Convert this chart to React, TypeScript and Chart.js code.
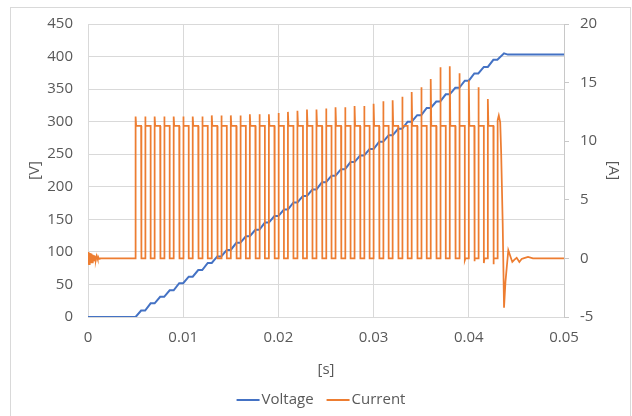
import React, { useEffect, useRef } from 'react';
import { Chart, registerables } from 'chart.js';

Chart.register(...registerables);

// ---------- data ----------
const seriesNames = ['Voltage', 'Current'];
const xTickLabels = ['0', '0.01', '0.02', '0.03', '0.04', '0.05'];
const vTickLabels = ['0', '50', '100', '150', '200', '250', '300', '350', '400', '450'];
const aTickLabels = ['-5', '0', '5', '10', '15', '20'];

// rising edge time of each current pulse [s]
const pulseStarts = [
  0.005, 0.006, 0.007, 0.008, 0.009, 0.010, 0.011, 0.012, 0.013, 0.014,
  0.015, 0.016, 0.017, 0.018, 0.019, 0.020, 0.021, 0.022, 0.023, 0.024,
  0.025, 0.026, 0.027, 0.028, 0.029, 0.030, 0.031, 0.032, 0.033, 0.034,
  0.035, 0.036, 0.037, 0.038, 0.039, 0.040, 0.041, 0.042,
];
// spike peak at the start of each pulse [A]
const spikePeaks = [
  12.1, 12.1, 12.1, 12.1, 12.1, 12.1, 12.1, 12.1, 12.2, 12.2,
  12.2, 12.2, 12.3, 12.3, 12.3, 12.4, 12.5, 12.6, 12.7, 12.7,
  12.8, 12.9, 12.9, 13.0, 13.0, 13.2, 13.4, 13.5, 13.8, 14.2,
  14.6, 15.3, 16.3, 16.4, 15.8, 15.2, 14.6, 13.6,
];
// flat top level of each pulse [A]
const pulseTops = [
  11.3, 11.3, 11.3, 11.3, 11.3, 11.3, 11.3, 11.3, 11.3, 11.3,
  11.3, 11.3, 11.3, 11.3, 11.3, 11.3, 11.3, 11.3, 11.3, 11.3,
  11.3, 11.3, 11.3, 11.3, 11.3, 11.3, 11.3, 11.3, 11.3, 11.3,
  11.3, 11.3, 11.3, 11.3, 11.3, 11.3, 11.3, 11.3,
];
// falling edge time of each pulse [s]
const pulseEnds = [
  0.00558, 0.00658, 0.00758, 0.00858, 0.00958, 0.01058, 0.01158, 0.01258, 0.01358, 0.01458,
  0.01558, 0.01658, 0.01758, 0.01858, 0.01958, 0.02058, 0.02158, 0.02258, 0.02358, 0.02458,
  0.02558, 0.02658, 0.02758, 0.02858, 0.02958, 0.03058, 0.03158, 0.03258, 0.03358, 0.03458,
  0.03558, 0.03658, 0.03758, 0.03858, 0.03958, 0.04058, 0.04158, 0.04258,
];
// small undershoot after each falling edge [A]
const fallDips = [
  0, 0, 0, 0, 0, 0, 0, 0, 0, 0,
  0, 0, 0, 0, 0, 0, 0, 0, 0, 0,
  0, 0, 0, 0, 0, 0, 0, 0, 0, 0,
  0, 0, 0, 0, -0.15, -0.25, -0.4, -0.5,
];
// ringing at t = 0
const ringTimes = [
  0, 0.00004, 0.00008, 0.00012, 0.00016, 0.0002, 0.00024, 0.00028, 0.00032, 0.00036,
  0.0004, 0.00044, 0.00048, 0.00052, 0.00056, 0.0006, 0.00064, 0.00068, 0.00072, 0.00076,
  0.0008, 0.00084, 0.00088, 0.00092, 0.00096, 0.001, 0.00104, 0.00108, 0.00112, 0.00116,
  0.0012, 0.00124, 0.00128,
];
const ringValues = [
  0.55, -0.53, 0.51, -0.49, 0.47, -0.45, 0.43, -0.41, 0.39, -0.37,
  0.35, -0.33, 0.31, -0.29, 0.27, -0.25, 0.23, -0.21, 0.19, -0.17,
  0.15, -0.13, 0.11, -0.09, 0.08, -0.07, 0.06, -0.05, 0.04, -0.03,
  0.02, -0.01, 0,
];
// last pulse and switch-off transient
const tailTimes = [0.043, 0.04303, 0.04315, 0.0433, 0.0434, 0.04356, 0.0437, 0.04385, 0.04415, 0.0444, 0.04457, 0.0448, 0.04503, 0.04531, 0.04555, 0.04573, 0.04622, 0.04674, 0.05];
const tailValues = [0, 11.8, 12.2, 11.6, 9.0, 3.0, -4.2, -2.0, 0.7, 0.1, -0.3, -0.1, 0.05, -0.3, -0.05, 0.0, 0.13, 0.0, 0.0];

// voltage level reached after each pulse [V]
const voltageLevels = [
  10, 21, 31, 41, 52, 62, 72, 83, 93, 103,
  114, 124, 134, 145, 155, 165, 176, 186, 196, 207,
  217, 227, 238, 248, 258, 269, 279, 289, 300, 310,
  321, 331, 342, 352, 363, 374, 384, 395,
];
const voltageTailTimes = [0.043, 0.0437, 0.0441, 0.05];
const voltageTailValues = [395, 405, 403, 403];

// ---------- build point lists ----------
function buildCurrent() {
  const pts: { x: number; y: number }[] = [];
  ringTimes.forEach((t, i) => pts.push({ x: t, y: ringValues[i] }));
  pulseStarts.forEach((t, k) => {
    pts.push({ x: t, y: 0 });
    pts.push({ x: t, y: spikePeaks[k] });
    pts.push({ x: t + 0.00006, y: pulseTops[k] });
    pts.push({ x: pulseEnds[k], y: pulseTops[k] });
    pts.push({ x: pulseEnds[k], y: fallDips[k] });
    pts.push({ x: pulseEnds[k] + 0.00006, y: 0 });
  });
  tailTimes.forEach((t, i) => pts.push({ x: t, y: tailValues[i] }));
  return pts;
}

function buildVoltage() {
  const pts: { x: number; y: number }[] = [{ x: 0, y: 0 }];
  pulseStarts.forEach((t, k) => {
    pts.push({ x: t, y: k === 0 ? 0 : voltageLevels[k - 1] });
    pts.push({ x: pulseEnds[k], y: voltageLevels[k] });
  });
  voltageTailTimes.forEach((t, i) => pts.push({ x: t, y: voltageTailValues[i] }));
  return pts;
}

const FONT = { family: '"Open Sans", sans-serif', size: 15 };
const TEXT = '#595959';
const GRID = '#d9d9d9';

const legendPlugin = {
  id: 'excelLegend',
  afterDraw(chart: any) {
    const ctx = chart.ctx;
    ctx.save();
    ctx.font = `${FONT.size}px ${FONT.family}`;
    const lineLen = 23, textGap = 2, itemGap = 13;
    const items = chart.data.datasets.map((d: any) => ({
      label: d.label as string,
      color: d.borderColor as string,
      w: ctx.measureText(d.label).width,
    }));
    const total = items.reduce((s: number, it: any) => s + lineLen + textGap + it.w, 0) + itemGap * (items.length - 1);
    let x = 321 - total / 2;
    const y = 400;
    items.forEach((it: any) => {
      ctx.strokeStyle = it.color;
      ctx.lineWidth = 2;
      ctx.beginPath();
      ctx.moveTo(x, y);
      ctx.lineTo(x + lineLen, y);
      ctx.stroke();
      x += lineLen + textGap;
      ctx.fillStyle = TEXT;
      ctx.textBaseline = 'middle';
      ctx.textAlign = 'left';
      ctx.fillText(it.label, x, y);
      x += it.w + itemGap;
    });
    ctx.restore();
  },
};

export default function App() {
  const ref = useRef<HTMLCanvasElement>(null);
  useEffect(() => {
    document.body.style.margin = '0';
    const chart = new Chart(ref.current as HTMLCanvasElement, {
      type: 'line',
      data: {
        datasets: [
          {
            label: seriesNames[0],
            data: buildVoltage(),
            borderColor: '#4472C4',
            backgroundColor: '#4472C4',
            borderWidth: 2,
            yAxisID: 'y',
            order: 2,
          },
          {
            label: seriesNames[1],
            data: buildCurrent(),
            borderColor: '#ED7D31',
            backgroundColor: '#ED7D31',
            borderWidth: 1.75,
            yAxisID: 'y1',
            order: 1,
          },
        ],
      },
      options: {
        animation: false,
        responsive: false,
        parsing: false as any,
        normalized: true,
        layout: { padding: { left: 10, top: 23, right: 0, bottom: 0 } },
        elements: { point: { radius: 0 }, line: { tension: 0 } },
        plugins: { legend: { display: false }, tooltip: { enabled: false } },
        scales: {
          x: {
            type: 'linear',
            min: 0,
            max: 0.05,
            ticks: {
              stepSize: 0.01,
              autoSkip: false,
              maxRotation: 0,
              color: TEXT,
              font: FONT,
              padding: 12,
              callback: (_v: any, i: number) => xTickLabels[i],
            },
            grid: { color: GRID, drawTicks: false },
            border: { color: GRID },
            title: { display: true, text: '[s]', color: TEXT, font: FONT, padding: { top: 0, bottom: 37 } },
            afterFit: (s: any) => { s.height = 99; },
          },
          y: {
            position: 'left',
            min: 0,
            max: 450,
            ticks: {
              stepSize: 50,
              color: TEXT,
              font: FONT,
              padding: 15,
              callback: (_v: any, i: number) => vTickLabels[i],
            },
            grid: { color: GRID, drawTicks: false },
            border: { display: false },
            title: { display: true, text: '[V]', color: TEXT, font: FONT, padding: { top: 16, bottom: 0 } },
            afterFit: (s: any) => { s.width = 78; },
          },
          y1: {
            position: 'right',
            min: -5,
            max: 20,
            ticks: {
              stepSize: 5,
              color: TEXT,
              font: FONT,
              padding: 11,
              callback: (_v: any, i: number) => aTickLabels[i],
            },
            grid: { drawOnChartArea: false, drawTicks: true, tickLength: 5, color: '#c8c8c8' },
            border: { color: '#c8c8c8' },
            title: { display: true, text: '[A]', color: TEXT, font: FONT, padding: { top: 10, bottom: 0 } },
            afterFit: (s: any) => { s.width = 68; },
          },
        },
      },
      plugins: [legendPlugin],
    } as any);
    return () => chart.destroy();
  }, []);

  return (
    <div style={{ position: 'relative', width: 632, height: 416, overflow: 'hidden', background: '#fff' }}>
      <canvas ref={ref} width={632} height={416} style={{ display: 'block' }} />
      <div
        style={{
          position: 'absolute',
          left: 10,
          top: 7,
          width: 619,
          height: 420,
          border: '1px solid #d9d9d9',
          pointerEvents: 'none',
        }}
      />
    </div>
  );
}
